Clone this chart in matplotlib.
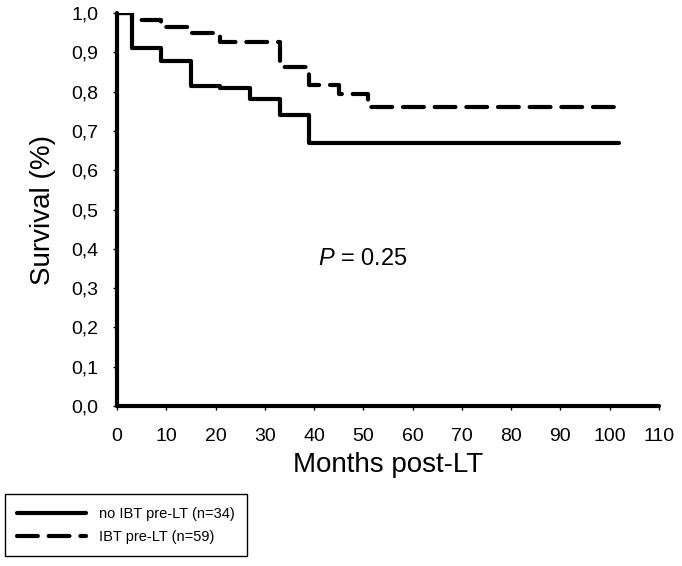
import matplotlib
matplotlib.use('Agg')
import matplotlib.pyplot as plt

# Kaplan-Meier step values (months, survival)
months_no_ibt = [0, 3, 9, 15, 21, 27, 33, 39, 102]
surv_no_ibt = [1.0, 0.910, 0.878, 0.814, 0.810, 0.781, 0.740, 0.668, 0.668]

months_ibt = [0, 3, 9, 15, 21, 33, 39, 45, 51, 102]
surv_ibt = [1.0, 0.982, 0.965, 0.948, 0.927, 0.863, 0.817, 0.793, 0.760, 0.760]

labels = ['no IBT pre-LT (n=34)', 'IBT pre-LT (n=59)']
xticks = list(range(0, 111, 10))
yticks = [i / 10 for i in range(11)]

plt.rcParams['font.family'] = ['Liberation Sans', 'DejaVu Sans']
plt.rcParams['mathtext.fontset'] = 'custom'
plt.rcParams['mathtext.it'] = 'Liberation Sans:italic'
plt.rcParams['mathtext.rm'] = 'Liberation Sans'

fig = plt.figure(figsize=(6.82, 5.66), dpi=100)
ax = fig.add_axes([0.1716, 0.2827, 0.7944, 0.6943])

ax.plot(months_no_ibt, surv_no_ibt, drawstyle='steps-post', color='black', lw=3,
        solid_capstyle='round', label=labels[0])
ax.plot(months_ibt, surv_ibt, drawstyle='steps-post', color='black', lw=3,
        dashes=(5, 2.6), dash_capstyle='round', label=labels[1])

ax.text(50, 0.375, r'$\it{P}$ = 0.25', ha='center', va='center', fontsize=17)

ax.set_xlim(0, 110)
ax.set_ylim(0, 1.0)
ax.set_xticks(xticks)
ax.set_xticklabels([str(t) for t in xticks], fontsize=14)
ax.set_yticks(yticks)
ax.set_yticklabels([('%.1f' % t).replace('.', ',') for t in yticks], fontsize=14)
ax.tick_params(length=3, width=1, direction='out')
ax.tick_params(axis='x', pad=13)
ax.tick_params(axis='y', pad=10.5)
ax.set_xlabel('Months post-LT', fontsize=20, labelpad=5)
ax.set_ylabel('Survival (%)', fontsize=20, labelpad=11)

for s in ['top', 'right']:
    ax.spines[s].set_visible(False)
for s in ['left', 'bottom']:
    ax.spines[s].set_linewidth(3)
    ax.spines[s].set_capstyle('round')

leg = fig.legend(loc='lower left', bbox_to_anchor=(5 / 682, 1 - 556 / 566), fontsize=10.5,
                 handlelength=4.7, handletextpad=0.9, borderpad=0.85, labelspacing=0.6,
                 fancybox=False, edgecolor='black', framealpha=1, borderaxespad=0)
leg.get_frame().set_linewidth(1)

fig.savefig('out.png', dpi=100)
